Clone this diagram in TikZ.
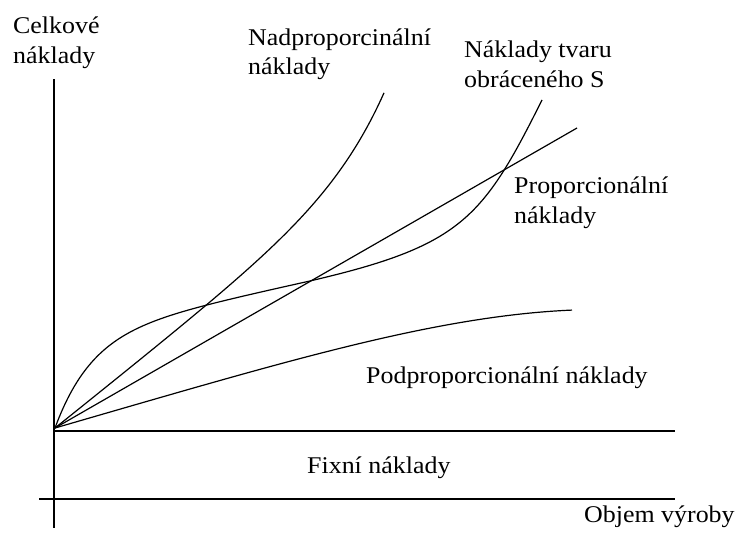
\documentclass[tikz,border=0pt]{standalone}
\usepackage{fontspec}
\setmainfont{Liberation Serif}[FakeStretch=1.08]
\begin{document}
\begin{tikzpicture}[x=1pt,y=-1pt,
  axis/.style={line width=1.5pt, line cap=butt},
  cost/.style={line width=1.2pt, line join=round},
  lbl/.style={anchor=base west, inner sep=0pt, font=\fontsize{24}{30}\selectfont}]
  \useasboundingbox (0,0) rectangle (738,533);

  % axes and the fixed-cost level
  \coordinate (ytop) at (54,79);
  \coordinate (ybot) at (54,528);
  \coordinate (xl) at (39,499);
  \coordinate (xr) at (675,499);
  \coordinate (fl) at (54,431);
  \coordinate (fr) at (675,431);
  \draw[axis] (ytop) -- (ybot);
  \draw[axis] (xl) -- (xr);
  \draw[axis] (fl) -- (fr);

  % common starting point of the variable cost curves
  \coordinate (o) at (55,428);

  % progressive costs
  \draw[cost] plot[domain=0:329, samples=120]
    ({55+\x}, {428-(0.8*\x+0.1*(exp(\x/50)-1))});
  % proportional costs
  \coordinate (pend) at (577,128);
  \draw[cost] (o) -- (pend);
  % inverse S-shaped costs
  \coordinate (send) at (542,100);
  \draw[cost] plot[domain=0:252, samples=120]
    ({55+\x}, {428-(91*(1-exp(-\x/36.5))+0.22*\x)})
    .. controls (461.3,246.1) and (482.4,219.2) .. (send);
  % degressive costs
  \draw[cost] plot[domain=0:517, samples=120]
    ({55+\x}, {428-(0.29*\x-0.0448*(\x/100)^4)});

  % labels
  \node[lbl] (celk1) at (13,33) {Celkové};
  \node[lbl] (celk2) at (13,63) {náklady};
  \node[lbl] (nad1) at (248,45) {Nadproporcinální};
  \node[lbl] (nad2) at (248,74) {náklady};
  \node[lbl] (s1) at (464,57) {Náklady tvaru};
  \node[lbl] (s2) at (464,87) {obráceného S};
  \node[lbl] (prop1) at (514,193) {Proporcionální};
  \node[lbl] (prop2) at (514,223) {náklady};
  \node[lbl] (pod) at (366,383) {Podproporcionální náklady};
  \node[lbl] (fix) at (307,473) {Fixní náklady};
  \node[lbl] (obj) at (584,522) {Objem výroby};
\end{tikzpicture}
\end{document}
